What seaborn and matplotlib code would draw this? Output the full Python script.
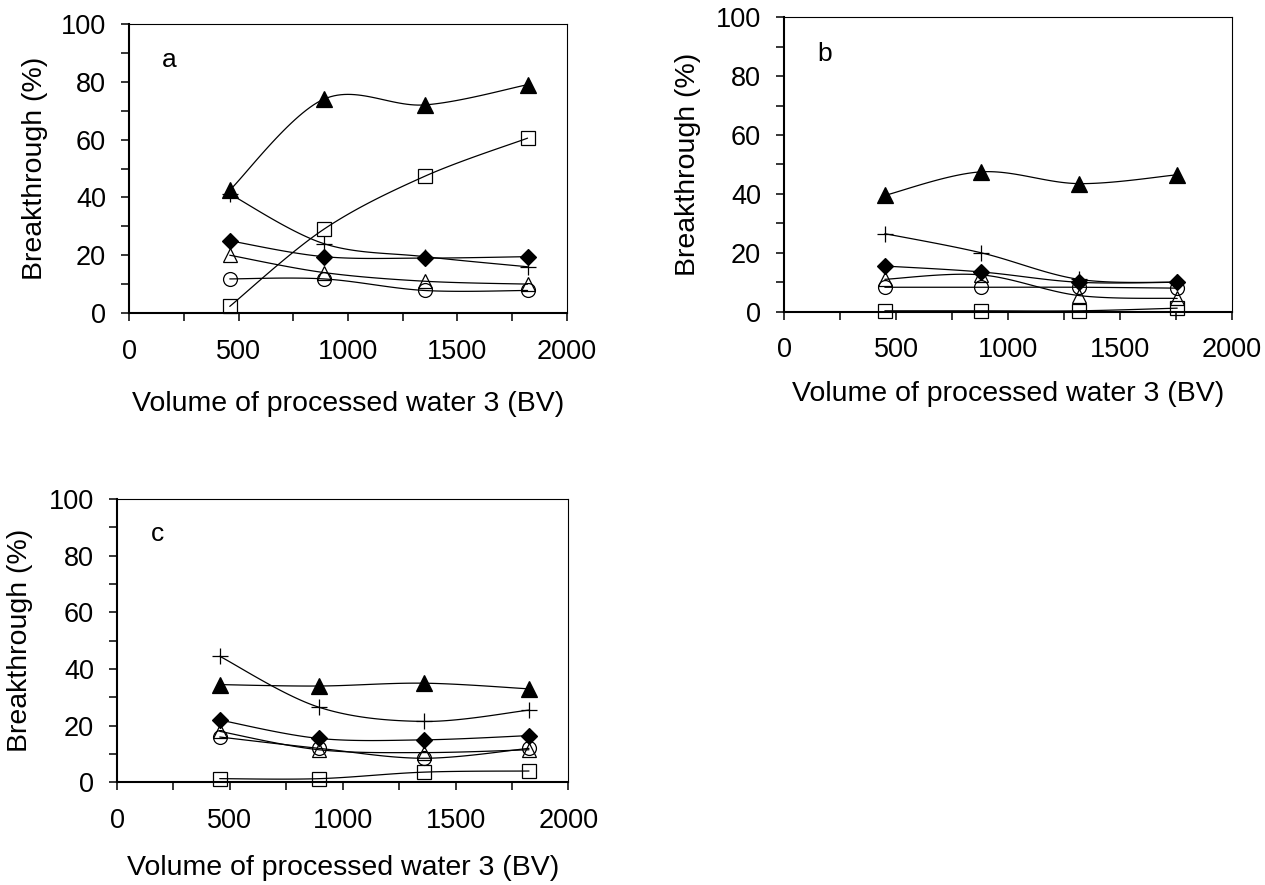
import numpy as np
import matplotlib
matplotlib.use('Agg')
import matplotlib.pyplot as plt
import seaborn as sns
from matplotlib.ticker import MultipleLocator

# ── Data ──────────────────────────────────────────────
x_a = [460, 890, 1350, 1820]
x_b = [450, 880, 1315, 1755]
x_c = [455, 895, 1360, 1825]

tri_filled_a = [42.5, 74, 72, 79]
square_a     = [2.3, 29, 47.3, 60.5]
plus_a       = [41.2, 24, 19.5, 16]
diamond_a    = [25, 19.5, 19, 19.5]
tri_open_a   = [20, 14, 11, 10]
circle_a     = [11.8, 11.8, 7.8, 7.8]

tri_filled_b = [39.5, 47.5, 43.5, 46.5]
square_b     = [0.3, 0.3, 0.3, 1.2]
plus_b       = [26.5, 20, 11, 10]
diamond_b    = [15.5, 13.5, 10, 10]
tri_open_b   = [11, 12.5, 5.5, 4.5]
circle_b     = [8.3, 8.3, 8.3, 8]

tri_filled_c = [34.5, 34, 35, 33]
square_c     = [1.3, 1.3, 3.6, 4]
plus_c       = [44.5, 26.5, 21.5, 25.5]
diamond_c    = [22, 15.5, 15, 16.5]
tri_open_c   = [18, 11.5, 10.5, 11.5]
circle_c     = [16, 12, 8.5, 12]

panel_labels = ['a', 'b', 'c']
xlabel = 'Volume of processed water 3 (BV)'
ylabel = 'Breakthrough (%)'

# marker, size, face
styles = {
    'tri_filled': ('^', 12, 'black'),
    'square':     ('s', 10, 'none'),
    'plus':       ('+', 11, 'none'),
    'diamond':    ('D', 8.5, 'black'),
    'tri_open':   ('^', 10.5, 'none'),
    'circle':     ('o', 10, 'none'),
}

panels = [
    (x_a, {'tri_filled': tri_filled_a, 'square': square_a, 'plus': plus_a,
           'diamond': diamond_a, 'tri_open': tri_open_a, 'circle': circle_a}),
    (x_b, {'tri_filled': tri_filled_b, 'square': square_b, 'plus': plus_b,
           'diamond': diamond_b, 'tri_open': tri_open_b, 'circle': circle_b}),
    (x_c, {'tri_filled': tri_filled_c, 'square': square_c, 'plus': plus_c,
           'diamond': diamond_c, 'tri_open': tri_open_c, 'circle': circle_c}),
]


def smooth(x, y, n=30):
    # Excel-style smoothed line (Catmull-Rom bezier through the points)
    P = np.column_stack([x, y]).astype(float)
    Q = np.vstack([P[0], P, P[-1]])
    t = np.linspace(0, 1, n)[:, None]
    pts = []
    for i in range(len(P) - 1):
        p0, p3 = P[i], P[i + 1]
        p1 = p0 + (Q[i + 2] - Q[i]) / 6
        p2 = p3 - (Q[i + 3] - Q[i + 1]) / 6
        seg = ((1 - t) ** 3) * p0 + 3 * ((1 - t) ** 2) * t * p1 \
            + 3 * (1 - t) * t ** 2 * p2 + t ** 3 * p3
        pts.append(seg if i == 0 else seg[1:])
    pts = np.vstack(pts)
    return pts[:, 0], pts[:, 1]


# ── Plot ──────────────────────────────────────────────
sns.set_theme(style='ticks')
plt.rcParams['font.family'] = ['Liberation Sans', 'DejaVu Sans']
plt.rcParams['text.color'] = 'black'

fig = plt.figure(figsize=(12.65, 8.85), dpi=100)
rects = [
    [0.1020, 0.6463, 0.3462, 0.3266],
    [0.6198, 0.6478, 0.3542, 0.3327],
    [0.0925, 0.1160, 0.3569, 0.3201],
]
xlab_y = [-0.27, -0.235, -0.255]

for k, (rect, (xs, series)) in enumerate(zip(rects, panels)):
    ax = fig.add_axes(rect)
    for name, ys in series.items():
        sx, sy = smooth(xs, ys)
        sns.lineplot(x=sx, y=sy, sort=False, estimator=None, color='black',
                     lw=0.9, ax=ax, zorder=2)
    for name, ys in series.items():
        m, ms, fc = styles[name]
        ax.plot(xs, ys, ls='none', marker=m, ms=ms, mfc=fc, mec='black',
                mew=0.9, color='black', zorder=3, clip_on=False)

    ax.set_xlim(0, 2000)
    ax.set_ylim(0, 100)
    ax.xaxis.set_major_locator(MultipleLocator(500))
    ax.xaxis.set_minor_locator(MultipleLocator(250))
    ax.yaxis.set_major_locator(MultipleLocator(20))
    ax.yaxis.set_minor_locator(MultipleLocator(10))
    ax.tick_params(which='both', direction='out', length=5.5, width=1.1,
                   color='black', labelsize=19.5, labelcolor='black')
    ax.tick_params(axis='x', which='major', pad=13)
    ax.tick_params(axis='y', which='major', pad=11)

    for side in ['left', 'bottom']:
        ax.spines[side].set_linewidth(1.5)
        ax.spines[side].set_color('black')
    for side in ['top', 'right']:
        ax.spines[side].set_linewidth(0.8)
        ax.spines[side].set_color('black')

    ax.set_xlabel(xlabel, fontsize=20.5, color='black')
    ax.set_ylabel(ylabel, fontsize=20.5, color='black')
    ax.xaxis.set_label_coords(0.5, xlab_y[k])
    ax.yaxis.set_label_coords(-0.185, 0.5)
    ax.text(0.075, 0.875, panel_labels[k], transform=ax.transAxes,
            fontsize=19, va='center', ha='left', color='black')

plt.savefig('out.png', dpi=100)
